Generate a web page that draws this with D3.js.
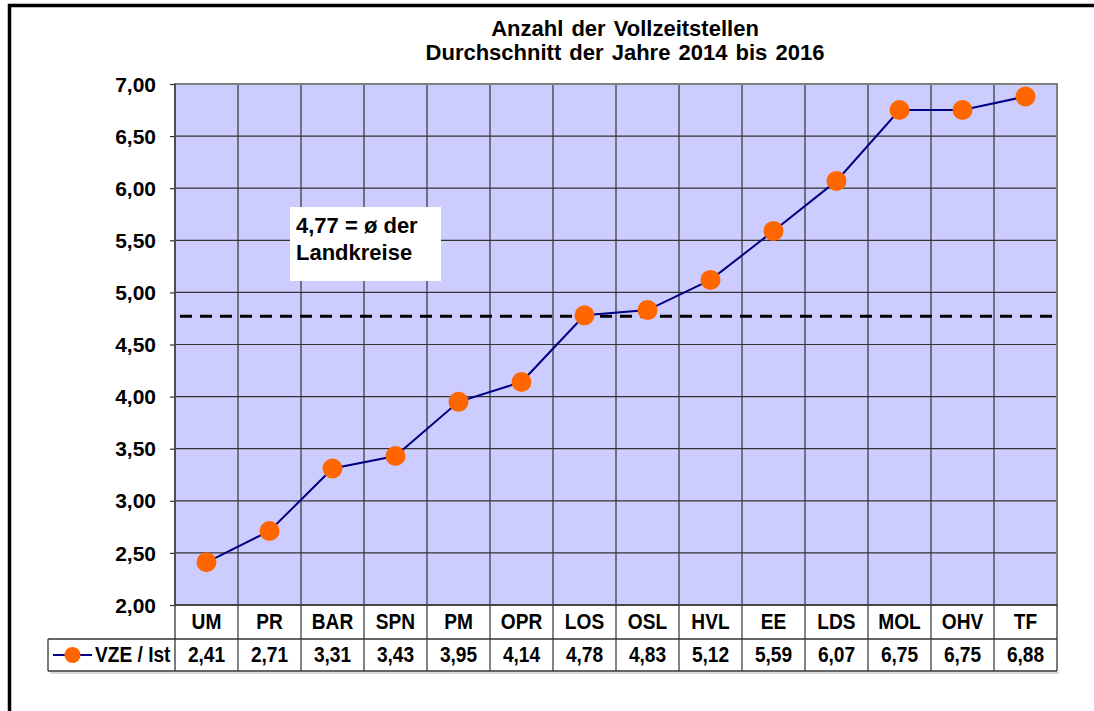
<!DOCTYPE html>
<html><head><meta charset="utf-8">
<script src="https://cdn.jsdelivr.net/npm/d3@7/dist/d3.min.js"></script>
<style>
html,body{margin:0;padding:0;background:#fff;overflow:hidden}
text{font-family:"Liberation Sans",Arial,sans-serif;font-weight:bold;fill:#000}
</style></head><body>
<svg id="c" width="1094" height="711"></svg>
<script>
const categories = ["UM","PR","BAR","SPN","PM","OPR","LOS","OSL","HVL","EE","LDS","MOL","OHV","TF"];
const values = [2.41,2.71,3.31,3.43,3.95,4.14,4.78,4.83,5.12,5.59,6.07,6.75,6.75,6.88];
const yTicks = [2.0,2.5,3.0,3.5,4.0,4.5,5.0,5.5,6.0,6.5,7.0];
const average = 4.77;
const seriesName = "VZE / Ist";
const titleLines = ["Anzahl der Vollzeitstellen","Durchschnitt der Jahre 2014 bis 2016"];
const annotationLines = ["4,77 = ø der","Landkreise"];

const fmt = v => d3.format(".2f")(v).replace(".", ",");
const svg = d3.select("#c");
const L = 175, R = 1057, T = 84, B = 605;
const row1 = 639, row2 = 671, legendLeft = 48;

// outer frame
svg.append("rect").attr("x",9.5).attr("y",5.5).attr("width",1200).attr("height",800)
  .attr("fill","none").attr("stroke","#000").attr("stroke-width",3.5);

const x = d3.scaleBand().domain(categories).range([L,R]).padding(0);
const y = d3.scaleLinear().domain([2,7]).range([B,T]);

// plot background
svg.append("rect").attr("x",L).attr("y",T).attr("width",R-L).attr("height",B-T).attr("fill","#CCCCFF");

// horizontal grid
svg.append("g").selectAll("line").data(yTicks.slice(1,-1)).join("line")
  .attr("x1",L).attr("x2",R).attr("y1",d=>y(d)).attr("y2",d=>y(d))
  .attr("stroke","#333").attr("stroke-width",1.2);
// vertical grid (through table)
svg.append("g").selectAll("line").data(categories.slice(1)).join("line")
  .attr("x1",d=>x(d)).attr("x2",d=>x(d)).attr("y1",T).attr("y2",row2)
  .attr("stroke","#333").attr("stroke-width",1.2);

// plot border
svg.append("rect").attr("x",L).attr("y",T).attr("width",R-L).attr("height",B-T)
  .attr("fill","none").attr("stroke","#808080").attr("stroke-width",2);

// y axis
const yAxis = d3.axisLeft(y).tickValues(yTicks).tickFormat(fmt).tickSize(5).tickPadding(14);
const gy = svg.append("g").attr("transform",`translate(${L},0)`).call(yAxis);
gy.select(".domain").remove();
gy.selectAll(".tick line").attr("stroke","#333").attr("stroke-width",1.2);
gy.selectAll(".tick text").attr("font-size",21).attr("font-family",null).attr("fill","#000").attr("dy","0.34em");

// table lines
const tl = svg.append("g").attr("stroke","#333").attr("stroke-width",1.3);
tl.append("line").attr("x1",L).attr("x2",L).attr("y1",T).attr("y2",row2);
tl.append("line").attr("x1",R).attr("x2",R).attr("y1",B).attr("y2",row2);
tl.append("line").attr("x1",L).attr("x2",R).attr("y1",B).attr("y2",B);
tl.append("line").attr("x1",legendLeft).attr("x2",R).attr("y1",row1).attr("y2",row1);
tl.append("line").attr("x1",legendLeft).attr("x2",R).attr("y1",row2).attr("y2",row2);
tl.append("line").attr("x1",legendLeft).attr("x2",legendLeft).attr("y1",row1).attr("y2",row2);
svg.append("line").attr("x1",legendLeft+2).attr("x2",R+2).attr("y1",row2+2).attr("y2",row2+2)
  .attr("stroke","#ccc").attr("stroke-width",1.5);

// category labels and values
const cx = d => x(d) + x.bandwidth()/2;
svg.append("g").selectAll("text").data(categories).join("text")
  .attr("transform",d=>`translate(${cx(d)},629) scale(0.87,1)`).attr("text-anchor","middle")
  .attr("font-size",22).text(d=>d);
svg.append("g").selectAll("text").data(values).join("text")
  .attr("transform",(d,i)=>`translate(${cx(categories[i])},661.5) scale(0.87,1)`).attr("text-anchor","middle")
  .attr("font-size",22).text(d=>fmt(d));

// legend cell
svg.append("line").attr("x1",53).attr("x2",92).attr("y1",655).attr("y2",655).attr("stroke","#000080").attr("stroke-width",2);
svg.append("circle").attr("cx",72.5).attr("cy",655).attr("r",8).attr("fill","#FF6600");
svg.append("text").attr("transform","translate(95,662) scale(0.87,1)").attr("font-size",22).text(seriesName);

// average dashed line
svg.append("line").attr("x1",L+5).attr("x2",R).attr("y1",y(average)).attr("y2",y(average))
  .attr("stroke","#000").attr("stroke-width",3).attr("stroke-dasharray","12,8");

// series line
const line = d3.line().x((d,i)=>cx(categories[i])).y(d=>y(d));
svg.append("path").datum(values).attr("d",line).attr("fill","none").attr("stroke","#000080").attr("stroke-width",2);
svg.append("g").selectAll("circle").data(values).join("circle")
  .attr("cx",(d,i)=>cx(categories[i])).attr("cy",d=>y(d)).attr("r",10).attr("fill","#FF6600");

// annotation
svg.append("rect").attr("x",290).attr("y",207).attr("width",151).attr("height",74).attr("fill","#fff");
svg.append("g").selectAll("text").data(annotationLines).join("text")
  .attr("x",296).attr("y",(d,i)=>233+i*27).attr("font-size",22).text(d=>d);

// title
svg.append("g").selectAll("text").data(titleLines).join("text")
  .attr("x",625).attr("y",(d,i)=>36+i*24).attr("text-anchor","middle").attr("font-size",22)
  .attr("word-spacing",2).text(d=>d);
</script>
</body></html>
